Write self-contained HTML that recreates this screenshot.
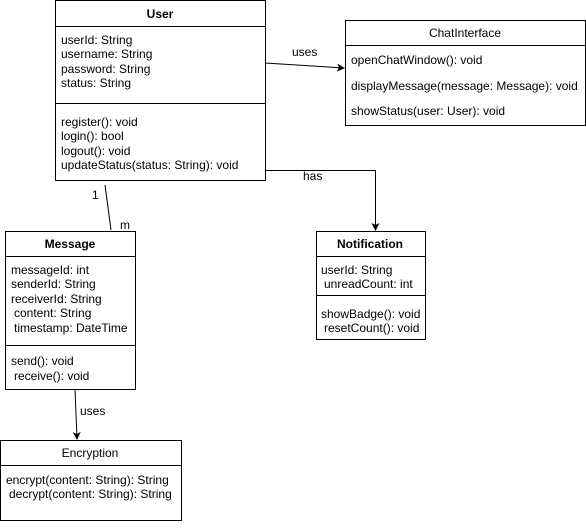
<!DOCTYPE html>
<html><head><meta charset="utf-8"><style>
html,body{margin:0;padding:0;background:#fff}
svg text{font-family:"Liberation Sans",Arial,sans-serif;font-size:12px;fill:#000}
.b{font-weight:bold}
</style></head><body>
<svg width="586" height="524" viewBox="0 0 586 524" xmlns="http://www.w3.org/2000/svg">
<defs><marker id="a" markerWidth="8" markerHeight="8" refX="7" refY="4" orient="auto" markerUnits="userSpaceOnUse"><path d="M0,0 L8,4 L0,8 L2,4 z" fill="#000"/></marker></defs>
<g fill="#fff" stroke="#000" stroke-width="1">
<rect x="55.5" y="0.5" width="210" height="180"/>
<line x1="55" y1="26.5" x2="265" y2="26.5"/>
<line x1="55" y1="103.5" x2="265" y2="103.5"/>
<rect x="345.5" y="20.5" width="240" height="105"/>
<line x1="345" y1="45.5" x2="585" y2="45.5"/>
<rect x="316.5" y="231.5" width="109" height="108"/>
<line x1="316" y1="256.5" x2="425" y2="256.5"/>
<line x1="316" y1="295.5" x2="425" y2="295.5"/>
<rect x="5.5" y="231.5" width="130" height="158"/>
<line x1="5" y1="256.5" x2="135" y2="256.5"/>
<line x1="5" y1="345.5" x2="135" y2="345.5"/>
<rect x="0.5" y="440.5" width="181" height="80"/>
<line x1="0" y1="465.5" x2="181" y2="465.5"/>
</g>
<g stroke="#000" fill="none">
<path d="M265,63 L344,68" marker-end="url(#a)"/>
<path d="M265,170.5 L375.5,170.5 L375.5,230" marker-end="url(#a)"/>
<path d="M105,185 L111,230"/>
<path d="M75,389 L77,439" marker-end="url(#a)"/>
</g>
<text x="160" y="18" text-anchor="middle" class="b">User</text>
<text x="61" y="44">userId: String</text>
<text x="61" y="58">username: String</text>
<text x="61" y="73">password: String</text>
<text x="61" y="87">status: String</text>
<text x="61" y="126">register(): void</text>
<text x="61" y="140">login(): bool</text>
<text x="61" y="155">logout(): void</text>
<text x="61" y="169">updateStatus(status: String): void</text>
<text x="465" y="37" text-anchor="middle">ChatInterface</text>
<text x="351" y="64">openChatWindow(): void</text>
<text x="351" y="90">displayMessage(message: Message): void</text>
<text x="351" y="115">showStatus(user: User): void</text>
<text x="292" y="56">uses</text>
<text x="303" y="180">has</text>
<text x="370" y="248" text-anchor="middle" class="b">Notification</text>
<text x="321" y="274">userId: String</text>
<text x="324" y="288">unreadCount: int</text>
<text x="321" y="318">showBadge(): void</text>
<text x="324" y="332">resetCount(): void</text>
<text x="92" y="199">1</text>
<text x="120" y="229">m</text>
<text x="70" y="248" text-anchor="middle" class="b">Message</text>
<text x="11" y="274">messageId: int</text>
<text x="11" y="288">senderId: String</text>
<text x="11" y="303">receiverId: String</text>
<text x="14" y="317">content: String</text>
<text x="14" y="332">timestamp: DateTime</text>
<text x="11" y="365">send(): void</text>
<text x="14" y="380">receive(): void</text>
<text x="80" y="415">uses</text>
<text x="90" y="457" text-anchor="middle">Encryption</text>
<text x="6" y="484">encrypt(content: String): String</text>
<text x="9" y="498">decrypt(content: String): String</text>
</svg>
</body></html>
